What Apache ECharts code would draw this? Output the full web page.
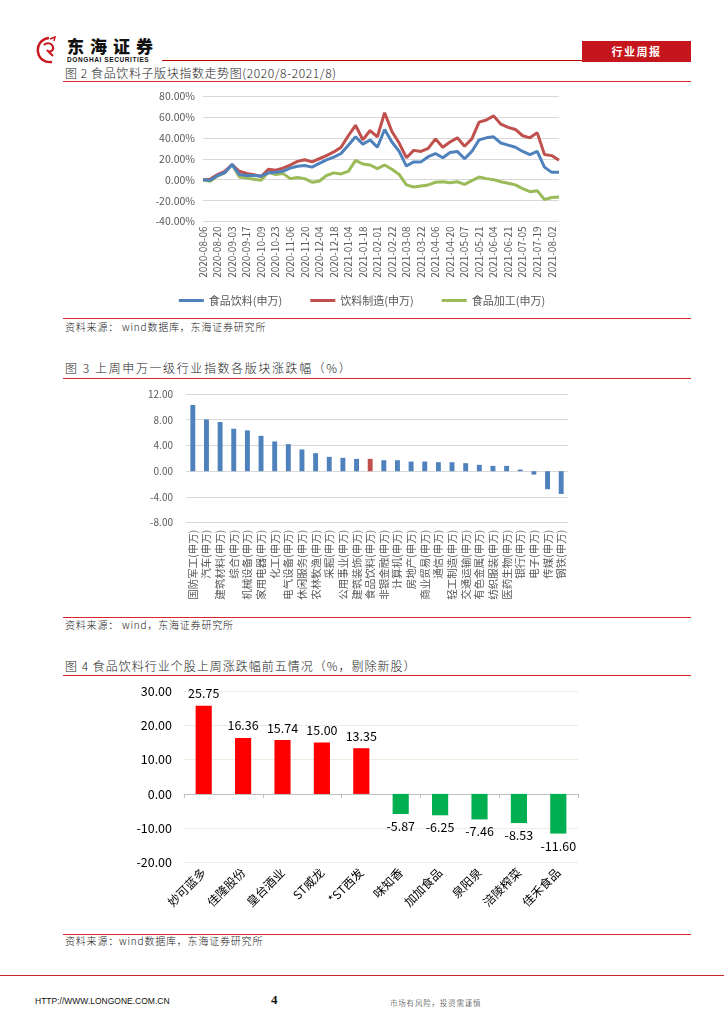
<!DOCTYPE html>
<html><head><meta charset="utf-8">
<script src="https://cdn.jsdelivr.net/npm/echarts@6/dist/echarts.min.js"></script>
<style>
html,body{margin:0;padding:0;background:#fff;}
#page{position:relative;width:724px;height:1024px;overflow:hidden;background:#fff;font-family:"Noto Sans CJK SC","Noto Sans",sans-serif;}
.abs{position:absolute;white-space:nowrap;}
.rule{position:absolute;height:1px;background:#d9262b;}
.title{font-size:12px;color:#222;font-weight:300;letter-spacing:0.6px;line-height:14px;}
.src{font-size:10px;color:#222;font-weight:300;letter-spacing:0.8px;line-height:12px;}
.chart{position:absolute;left:0;width:724px;}
</style></head>
<body><div id="page">
  <svg class="abs" style="left:35px;top:36px" width="30" height="28" viewBox="0 0 30 28">
    <path d="M14 2 C6 3 2 9 3 16 C4 23 10 27 17 26" fill="none" stroke="#c8161d" stroke-width="2.4"/>
    <path d="M9 9 C12 6 17 7 18 11 C19 15 14 17 12 14 L18 20" fill="none" stroke="#c8161d" stroke-width="2"/>
    <path d="M15 3 L20 1 L19 5" fill="none" stroke="#c8161d" stroke-width="1.5"/>
  </svg>
  <div class="abs" style="left:67px;top:36px;font-size:17px;font-weight:900;letter-spacing:6px;color:#111;line-height:20px;">东海证券</div>
  <div class="abs" style="left:67px;top:56px;font-family:'Liberation Sans',sans-serif;font-size:6.5px;font-weight:bold;letter-spacing:0.6px;color:#111;line-height:7px;">DONGHAI SECURITIES</div>
  <div class="rule" style="left:162px;top:60px;width:420px;background:#c00000;"></div>
  <div class="abs" style="left:582px;top:41px;width:109px;height:21px;background:#c4161c;color:#fff;font-size:11px;font-weight:bold;letter-spacing:1.5px;text-align:center;line-height:21px;">行业周报</div>

  <div class="abs title" style="left:65px;top:66px;">图 2 食品饮料子版块指数走势图(2020/8-2021/8)</div>
  <div class="rule" style="left:63px;top:81px;width:628px;"></div>
  <div class="rule" style="left:63px;top:318px;width:628px;"></div>
  <div class="abs src" style="left:65px;top:321px;">资料来源： wind数据库，东海证券研究所</div>

  <div class="abs title" style="left:65px;top:361px;letter-spacing:1.6px;">图 3 上周申万一级行业指数各版块涨跌幅（%）</div>
  <div class="rule" style="left:63px;top:378px;width:628px;"></div>
  <div class="rule" style="left:63px;top:617px;width:628px;"></div>
  <div class="abs src" style="left:65px;top:619px;">资料来源： wind，东海证券研究所</div>

  <div class="abs title" style="left:65px;top:659px;letter-spacing:1px;">图 4 食品饮料行业个股上周涨跌幅前五情况（%，剔除新股）</div>
  <div class="rule" style="left:63px;top:675px;width:628px;"></div>
  <div class="rule" style="left:63px;top:934px;width:628px;"></div>
  <div class="abs src" style="left:65px;top:935px;">资料来源：wind数据库，东海证券研究所</div>

  <div class="rule" style="left:0px;top:975px;width:724px;background:#c8262b;"></div>
  <div class="abs" style="left:35px;top:996px;font-family:'Liberation Sans',sans-serif;font-size:8.5px;color:#111;">HTTP://WWW.LONGONE.COM.CN</div>
  <div class="abs" style="left:271px;top:992px;font-family:'Liberation Serif',serif;font-size:13px;font-weight:bold;color:#111;">4</div>
  <div class="abs" style="left:390px;top:997px;font-size:7.5px;color:#222;font-weight:300;letter-spacing:0.8px;">市场有风险，投资需谨慎</div>

  <div id="c1" class="chart" style="top:85px;height:225px;"></div>
  <div id="c2" class="chart" style="top:385px;height:240px;"></div>
  <div id="c3" class="chart" style="top:680px;height:250px;"></div>
</div>
<script>
// ---------- Figure 2 data ----------
const dates = ['2020-08-06','2020-08-13','2020-08-20','2020-08-27','2020-09-03','2020-09-10','2020-09-17','2020-09-24','2020-10-09','2020-10-16',
'2020-10-23','2020-10-30','2020-11-06','2020-11-13','2020-11-20','2020-11-27','2020-12-04','2020-12-11','2020-12-18','2020-12-25',
'2021-01-04','2021-01-11','2021-01-18','2021-01-25','2021-02-01','2021-02-08','2021-02-22','2021-03-01','2021-03-08','2021-03-15',
'2021-03-22','2021-03-29','2021-04-06','2021-04-13','2021-04-20','2021-04-27','2021-05-07','2021-05-14','2021-05-21','2021-05-28',
'2021-06-04','2021-06-11','2021-06-21','2021-06-28','2021-07-05','2021-07-12','2021-07-19','2021-07-26','2021-08-02','2021-08-06'];
const seriesNames = ['食品饮料(申万)','饮料制造(申万)','食品加工(申万)'];
const foodBeverage = [0,-0.5,4,6.7,14.5,5,4,4,3.5,6.5,7,8,11,12.8,13.5,12,15.5,19,21.5,25,33,41,34,38,31,48,36,27,13,17,17,22,25,21,26,27,20,27,38,40,41,35,33,31,27,24,27,12,7,7];
const beverageMfg = [0,0.5,4.8,8,14.5,8,6,4.8,3,10,9,11,14,17.5,19,17,20,23,26.5,31,42,52,38,47,41,64,46,35,21,28,27,30,39,31,36,40,32,39,55,57,61,53,50,48,42,40,45,24,23,18.5];
const foodProcessing = [0,-1.5,3.5,6.5,14.5,2.5,1.5,0.5,-0.5,7,5,6,1,2,1,-2.5,-1.5,4,6.5,5.5,8,18.5,15,14,10.5,14,10,5,-5,-7,-6,-5,-2.5,-2,-3,-2,-4.5,-1,2.5,1,0,-2,-3.5,-5,-8.5,-11.5,-10.5,-19,-17,-16.5];
const lineColors = ['#4f81bd','#c0504d','#9bbb59'];

// ---------- Figure 3 data ----------
const industries = ['国防军工(申万)','汽车(申万)','建筑材料(申万)','综合(申万)','机械设备(申万)','家用电器(申万)','化工(申万)','电气设备(申万)','休闲服务(申万)','农林牧渔(申万)',
'采掘(申万)','公用事业(申万)','建筑装饰(申万)','食品饮料(申万)','非银金融(申万)','计算机(申万)','房地产(申万)','商业贸易(申万)','通信(申万)','轻工制造(申万)',
'交通运输(申万)','有色金属(申万)','纺织服装(申万)','医药生物(申万)','银行(申万)','电子(申万)','传媒(申万)','钢铁(申万)'];
const industryChange = [10.29,8.05,7.64,6.6,6.34,5.5,4.62,4.21,3.38,2.8,2.23,2.08,1.92,1.92,1.71,1.71,1.5,1.5,1.4,1.4,1.25,0.99,0.83,0.83,0.26,-0.52,-2.8,-3.53];
const highlightIndustry = '食品饮料(申万)';

// ---------- Figure 4 data ----------
const stocks = ['妙可蓝多','佳隆股份','皇台酒业','ST威龙','*ST西发','味知香','加加食品','泉阳泉','涪陵榨菜','佳禾食品'];
const stockChange = [25.75,16.36,15.74,15.00,13.35,-5.87,-6.25,-7.46,-8.53,-11.60];

const FONT = '"Noto Sans CJK SC","Noto Sans",sans-serif';

// Chart 1
const c1 = echarts.init(document.getElementById('c1'));
c1.setOption({
  animation:false,
  textStyle:{fontFamily:FONT},
  grid:{left:203,right:165,top:11,bottom:88.5},
  legend:{top:205,left:'center',icon:'rect',itemWidth:25,itemHeight:3,itemGap:28,
    textStyle:{fontSize:11,color:'#595959',fontFamily:FONT},data:seriesNames},
  xAxis:{type:'category',data:dates,boundaryGap:false,
    axisLine:{show:false},axisTick:{show:false},
    axisLabel:{interval:1,rotate:90,fontSize:10,color:'#595959',margin:5,fontFamily:FONT}},
  yAxis:{type:'value',min:-40,max:80,interval:20,
    axisLabel:{formatter:v=>v.toFixed(2)+'%',fontSize:10.5,color:'#595959',margin:8,fontFamily:FONT},
    axisLine:{show:false},axisTick:{show:false},
    splitLine:{lineStyle:{color:'#d9d9d9'}}},
  series:[foodBeverage,beverageMfg,foodProcessing].map((d,i)=>({
    name:seriesNames[i],type:'line',data:d,showSymbol:false,symbol:'none',
    lineStyle:{width:3,color:lineColors[i]},itemStyle:{color:lineColors[i]},z:3-i
  }))
});

// Chart 2
const c2 = echarts.init(document.getElementById('c2'));
c2.setOption({
  animation:false,
  textStyle:{fontFamily:FONT},
  grid:{left:186,right:156,top:9,bottom:102.3},
  xAxis:{type:'category',data:industries,
    axisLine:{show:false,onZero:false},axisTick:{show:false},
    axisLabel:{interval:0,rotate:90,fontSize:10.5,color:'#595959',margin:7,fontFamily:FONT}},
  yAxis:{type:'value',min:-8,max:12,interval:4,
    axisLabel:{formatter:v=>v.toFixed(2),fontSize:10,color:'#595959',margin:13,fontFamily:FONT},
    axisLine:{show:false},axisTick:{show:false},
    splitLine:{lineStyle:{color:'#d9d9d9'}}},
  series:[{type:'bar',barWidth:'36%',
    data:industryChange.map((v,i)=>({value:v,itemStyle:{color:industries[i]===highlightIndustry?'#c0504d':'#4f81bd'}}))}]
});

// Chart 3
const c3 = echarts.init(document.getElementById('c3'));
c3.setOption({
  animation:false,
  textStyle:{fontFamily:FONT},
  grid:{left:184,right:146,top:11.3,bottom:67.7},
  xAxis:[
    {type:'category',data:stocks,position:'bottom',
      axisLine:{show:true,onZero:true,lineStyle:{color:'#bfbfbf',width:1}},
      axisTick:{show:true,length:4,lineStyle:{color:'#bfbfbf'}},
      axisLabel:{show:false}},
    {type:'category',data:stocks,position:'bottom',
      axisLine:{show:false,onZero:false},axisTick:{show:false},
      axisLabel:{interval:0,rotate:45,fontSize:12,color:'#000',margin:8,fontFamily:FONT}}
  ],
  yAxis:{type:'value',min:-20,max:30,interval:10,
    axisLabel:{formatter:v=>v.toFixed(2),fontSize:12.5,color:'#000',margin:12,fontFamily:FONT},
    axisLine:{show:false},axisTick:{show:false},
    splitLine:{lineStyle:{color:'#eeece1'}}},
  series:[{type:'bar',barWidth:'41%',xAxisIndex:0,
    data:stockChange.map(v=>({value:v,
      itemStyle:{color:v>=0?'#ff0000':'#00b050'},
      label:{show:true,position:v>=0?'top':'bottom',distance:6,formatter:()=>v.toFixed(2),
        fontSize:12.5,color:'#000',fontFamily:FONT}}))}]
});
</script>
</body></html>
